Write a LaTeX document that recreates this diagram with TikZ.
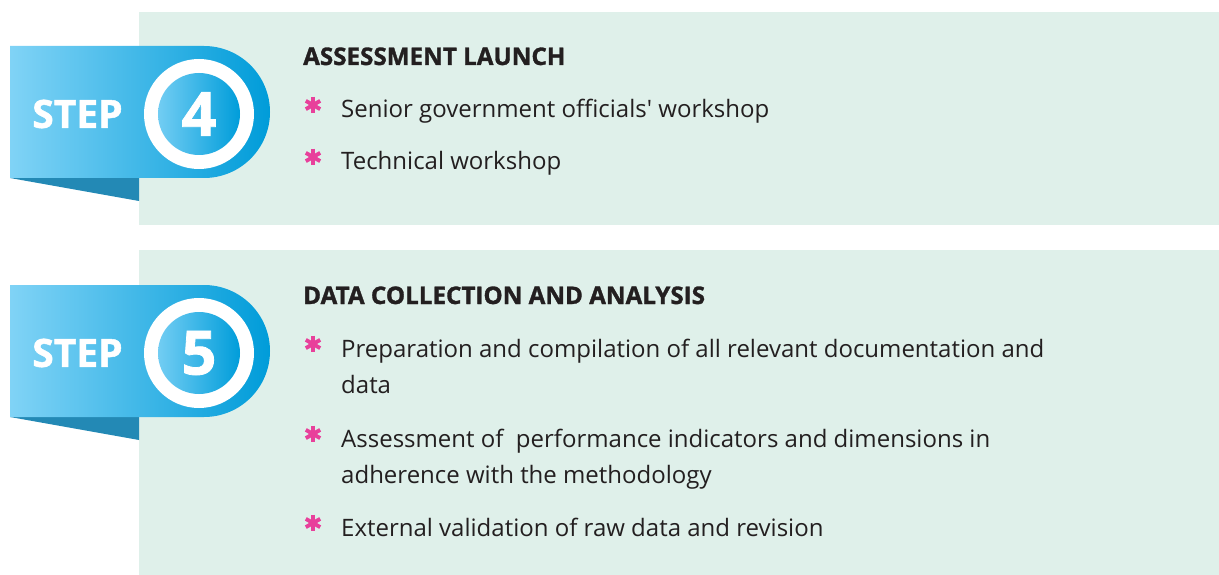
\documentclass[tikz,border=0pt]{standalone}
\usepackage{fontspec}
\setmainfont{Open Sans}[Ligatures=TeXOff]
\newfontfamily\heavyfont{Open Sans}[BoldFeatures={FakeBold=1.3}]
\definecolor{panel}{HTML}{DFF0EA}
\definecolor{bla}{HTML}{80D3F6}
\definecolor{blb}{HTML}{05AAE0}
\definecolor{blc}{HTML}{009CD9}
\definecolor{cia}{HTML}{72CDF3}
\definecolor{cim}{HTML}{08A9E0}
\definecolor{cib}{HTML}{009DDA}
\definecolor{fold}{HTML}{2389B5}
\definecolor{pink}{HTML}{E8409B}
\definecolor{ink}{HTML}{231F20}
\tikzset{
  steptxt/.style={font=\heavyfont\bfseries\fontsize{39}{44}\selectfont, text=white, inner sep=0pt},
  numtxt/.style={font=\heavyfont\bfseries\fontsize{61}{66}\selectfont, text=white, inner sep=0pt},
  titletxt/.style={font=\heavyfont\bfseries\fontsize{24.2}{28}\selectfont, text=ink, anchor=base west, inner sep=0pt},
  bodytxt/.style={font=\fontsize{24}{36}\selectfont, text=ink, anchor=base west, inner sep=0pt, align=left},
  ast/.style={draw=pink, line width=3.9pt},
}
\newcommand{\banner}[3]{%
  \fill[fold] (10,#1+132) -- (139,#1+132) -- (139,#1+155) -- cycle;
  \shade[left color=bla, middle color=blb, right color=blc] (10,#1) -- (204,#1) arc[start angle=90,end angle=-90,radius=66pt] -- (10,#1+132) -- cycle;
  \fill[white] (199,#1+68) circle[radius=55pt];
  \shade[left color=cia, middle color=cim, right color=cib] (199,#1+68) circle[radius=41pt];
  \node[steptxt] (step#2) at (77.5,#1+68) {STEP};
  \node[numtxt] (num#2) at (199,#1+68) {#3};
}
\newcommand{\asterisk}[2]{%
  \coordinate (#1) at #2;
  \foreach \a in {90,30,150} \draw[ast] ($(#1)+(\a:8.3pt)$) -- ($(#1)+(\a+180:8.3pt)$);
}
\usetikzlibrary{calc}
\begin{document}
\begin{tikzpicture}[x=1pt,y=-1pt]
\useasboundingbox (0,0) rectangle (1219,575);
\fill[panel] (139,12) rectangle (1219,225);
\fill[panel] (139,250) rectangle (1219,575);
\banner{46}{4}{4}
\banner{285}{5}{5}
% step 4 text
\node[titletxt] (t4) at (303,65) {ASSESSMENT LAUNCH};
\asterisk{a41}{(313,105)}
\node[bodytxt] (b41) at (341,118) {Senior government officials' workshop};
\asterisk{a42}{(313,157)}
\node[bodytxt] (b42) at (341,170) {Technical workshop};
% step 5 text
\node[titletxt] (t5) at (303,304) {DATA COLLECTION AND ANALYSIS};
\asterisk{a51}{(313,344)}
\node[bodytxt] (b51) at (341,393) {Preparation and compilation of all relevant documentation and\\data};
\asterisk{a52}{(313,434)}
\node[bodytxt] (b52) at (341,483) {Assessment of~ performance indicators and dimensions in\\adherence with the methodology};
\asterisk{a53}{(313,523)}
\node[bodytxt] (b53) at (341,536) {External validation of raw data and revision};
\end{tikzpicture}
\end{document}
